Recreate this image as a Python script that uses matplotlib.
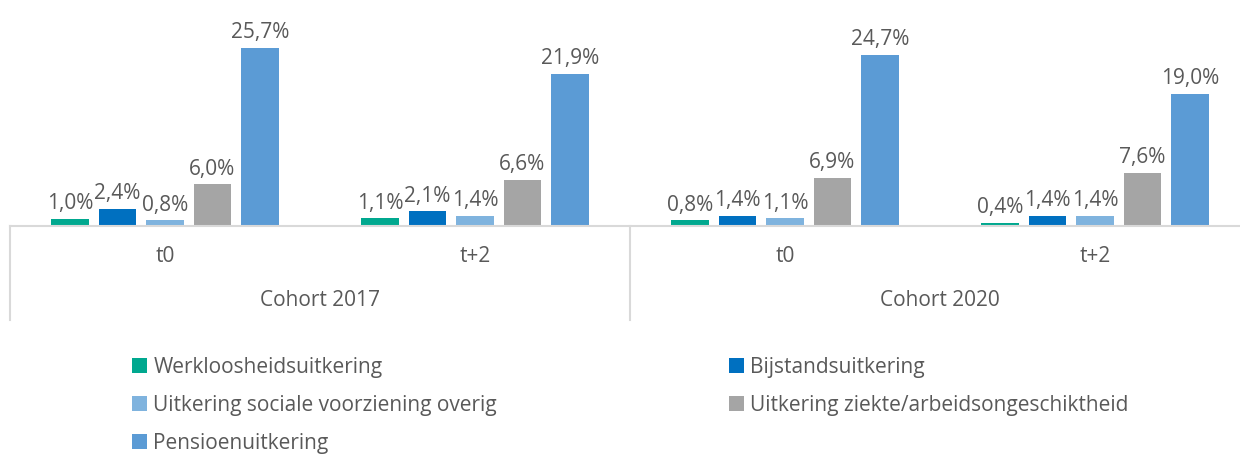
import numpy as np
import matplotlib.pyplot as plt
from matplotlib.transforms import blended_transform_factory

plt.rcParams['font.family'] = ['Open Sans', 'DejaVu Sans']

# data
periods = ['t0', 't+2', 't0', 't+2']
cohorts = ['Cohort 2017', 'Cohort 2020']
series = ['Werkloosheidsuitkering', 'Bijstandsuitkering',
          'Uitkering sociale voorziening overig',
          'Uitkering ziekte/arbeidsongeschiktheid', 'Pensioenuitkering']
werkloos = [1.0, 1.1, 0.8, 0.4]
bijstand = [2.4, 2.1, 1.4, 1.4]
sociale = [0.8, 1.4, 1.1, 1.4]
ziekte = [6.0, 6.6, 6.9, 7.6]
pensioen = [25.7, 21.9, 24.7, 19.0]
values = [werkloos, bijstand, sociale, ziekte, pensioen]
colors = ['#00A88F', '#0070C0', '#7FB3DE', '#A5A5A5', '#5B9BD5']
txt = '#595959'

W, H = 1240, 457
fs = 15
fig = plt.figure(figsize=(W / 100, H / 100), dpi=100)
ax = fig.add_axes([10 / W, (H - 226) / H, 1240 / W, 208 / H])

x = np.arange(len(periods))
step = 47.5 / 310
width = 37.5 / 310
handles = []
for k, (vals, col, name) in enumerate(zip(values, colors, series)):
    pos = x + (k - 2) * step
    b = ax.bar(pos, vals, width, color=col, label=name)
    handles.append(b)
    for px, v in zip(pos, vals):
        ax.annotate(f'{v:.1f}%'.replace('.', ','), (px, v), xytext=(0, 3.5),
                    textcoords='offset points', ha='center', va='bottom',
                    fontsize=fs, color=txt)

ax.set_xlim(-0.5, 3.5)
ax.set_ylim(0, 30)
ax.set_xticks([])
ax.set_yticks([])
for s in ['top', 'left', 'right']:
    ax.spines[s].set_visible(False)
ax.spines['bottom'].set_color('#D9D9D9')
ax.spines['bottom'].set_linewidth(1.5)

tr = blended_transform_factory(ax.transData, ax.transAxes)
depth = -94 / 208
for xv in [-0.5, 1.5]:
    ax.plot([xv, xv], [0, depth], transform=tr, color='#D9D9D9', lw=1.5,
            clip_on=False)
for i, p in enumerate(periods):
    ax.text(i, -30 / 208, p, transform=tr, ha='center', va='center',
            fontsize=fs, color=txt)
for j, c in enumerate(cohorts):
    ax.text(2 * j + 0.5, -75 / 208, c, transform=tr, ha='center',
            va='center', fontsize=fs, color=txt)

leg_kw = dict(frameon=False, fontsize=fs, labelcolor=txt, handlelength=0.72,
              handleheight=0.72, handletextpad=0.3, labelspacing=0.82,
              borderaxespad=0, borderpad=0, loc='upper left')
l1 = fig.legend([handles[i] for i in [0, 2, 4]], [series[i] for i in [0, 2, 4]],
                bbox_to_anchor=(132 / W, 1 - 357 / H), **leg_kw)
l2 = fig.legend([handles[i] for i in [1, 3]], [series[i] for i in [1, 3]],
                bbox_to_anchor=(729 / W, 1 - 357 / H), **leg_kw)

fig.savefig('out.png', dpi=100)
